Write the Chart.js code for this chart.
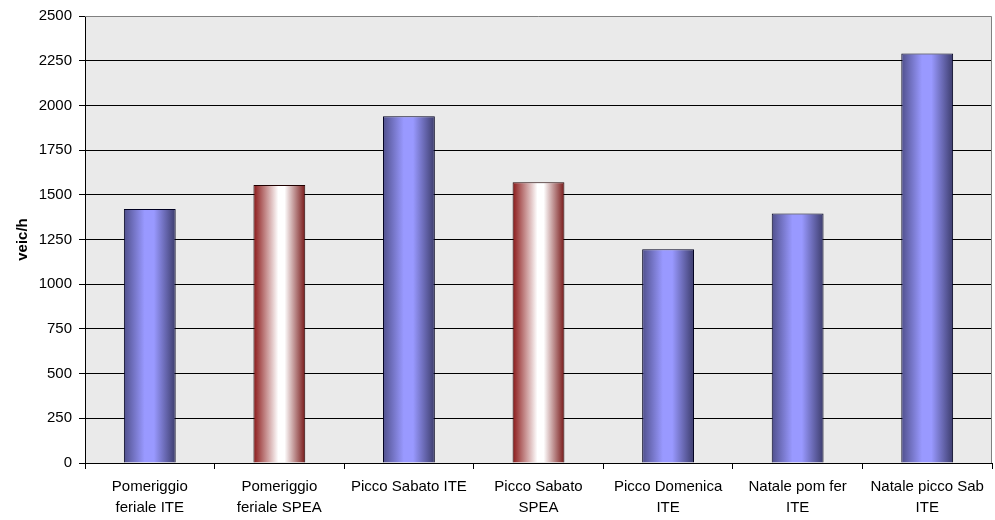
<!DOCTYPE html>
<html>
<head>
<meta charset="utf-8">
<script src="https://cdn.jsdelivr.net/npm/chart.js@4.4.0/dist/chart.umd.min.js"></script>
<style>
  html, body { margin: 0; padding: 0; background: #fff; }
  #wrap { width: 995px; height: 520px; }
</style>
</head>
<body>
<div id="wrap"><canvas id="myChart" width="995" height="520"></canvas></div>
<script>
const categories = [
  ["Pomeriggio", "feriale ITE"],
  ["Pomeriggio", "feriale SPEA"],
  ["Picco Sabato ITE"],
  ["Picco Sabato", "SPEA"],
  ["Picco Domenica", "ITE"],
  ["Natale pom fer", "ITE"],
  ["Natale picco Sab", "ITE"],
];
const flows = [1420, 1555, 1940, 1570, 1195, 1395, 2290];
const sources = ["ITE", "SPEA", "ITE", "SPEA", "ITE", "ITE", "ITE"];
const yTicks = [0, 250, 500, 750, 1000, 1250, 1500, 1750, 2000, 2250, 2500];

document.addEventListener("DOMContentLoaded", function () {
  const ctx = document.getElementById("myChart").getContext("2d");
  const font = "Liberation Sans, Arial, sans-serif";

  // cylinder-like shading across each bar
  function barFill(context) {
    const chart = context.chart;
    const xs = chart.scales.x;
    const isSpea = sources[context.dataIndex] === "SPEA";
    if (!xs || !chart.chartArea) return isSpea ? "#a03030" : "#9999ff";
    const center = xs.getPixelForValue(context.dataIndex);
    const half = (xs.width / categories.length) * 0.4 / 2;
    const g = chart.ctx.createLinearGradient(center - half, 0, center + half, 0);
    if (isSpea) {
      g.addColorStop(0, "#8a1818");
      g.addColorStop(0.48, "#ffffff");
      g.addColorStop(0.6, "#ffffff");
      g.addColorStop(1, "#781818");
    } else {
      g.addColorStop(0, "#50508c");
      g.addColorStop(0.4, "#9999ff");
      g.addColorStop(0.58, "#9999ff");
      g.addColorStop(1, "#3c3c6c");
    }
    return g;
  }

  const plotBackground = {
    id: "plotBackground",
    beforeDraw(chart) {
      const { ctx, chartArea: a } = chart;
      ctx.save();
      ctx.fillStyle = "#eaeaea";
      ctx.fillRect(a.left, a.top, a.right - a.left, a.bottom - a.top);
      ctx.restore();
    },
    afterDatasetsDraw(chart) {
      const { ctx, chartArea: a } = chart;
      ctx.save();
      ctx.strokeStyle = "#808080";
      ctx.lineWidth = 1;
      ctx.beginPath();
      ctx.moveTo(a.left, a.top + 0.5);
      ctx.lineTo(a.right - 0.5, a.top + 0.5);
      ctx.lineTo(a.right - 0.5, a.bottom);
      ctx.stroke();
      ctx.restore();
    },
  };

  new Chart(ctx, {
    type: "bar",
    data: {
      labels: categories,
      datasets: [
        {
          data: flows,
          backgroundColor: barFill,
          borderColor: (c) => (sources[c.dataIndex] === "SPEA" ? "#200000" : "#000020"),
          borderWidth: 1,
          barPercentage: 0.8,
          categoryPercentage: 0.5,
        },
      ],
    },
    options: {
      responsive: false,
      animation: false,
      layout: { padding: { top: 7, right: 3, left: 0, bottom: 0 } },
      plugins: { legend: { display: false }, tooltip: { enabled: false } },
      scales: {
        x: {
          afterFit: (axis) => { axis.height = 57; },
          grid: { drawOnChartArea: false, color: "#000", tickLength: 6, offset: true },
          border: { color: "#000" },
          ticks: {
            color: "#000",
            font: { family: font, size: 15, lineHeight: 1.4 },
            maxRotation: 0,
            autoSkip: false,
            padding: 7,
          },
        },
        y: {
          min: 0,
          max: 2500,
          afterBuildTicks: (axis) => { axis.ticks = yTicks.map((v) => ({ value: v })); },
          afterFit: (axis) => { axis.width = 85; },
          grid: {
            color: (c) => (c.tick && c.tick.value === 2500 ? "rgba(0,0,0,0)" : "#000"),
            tickColor: "#000",
            tickLength: 6,
          },
          border: { color: "#000" },
          ticks: {
            color: "#000",
            font: { family: font, size: 15 },
            padding: 7,
            callback: (v) => String(v),
          },
          title: {
            display: true,
            text: "veic/h",
            color: "#000",
            font: { family: font, size: 15, weight: "bold" },
            padding: { top: 14, bottom: 0 },
          },
        },
      },
    },
    plugins: [plotBackground],
  });
});
</script>
</body>
</html>
